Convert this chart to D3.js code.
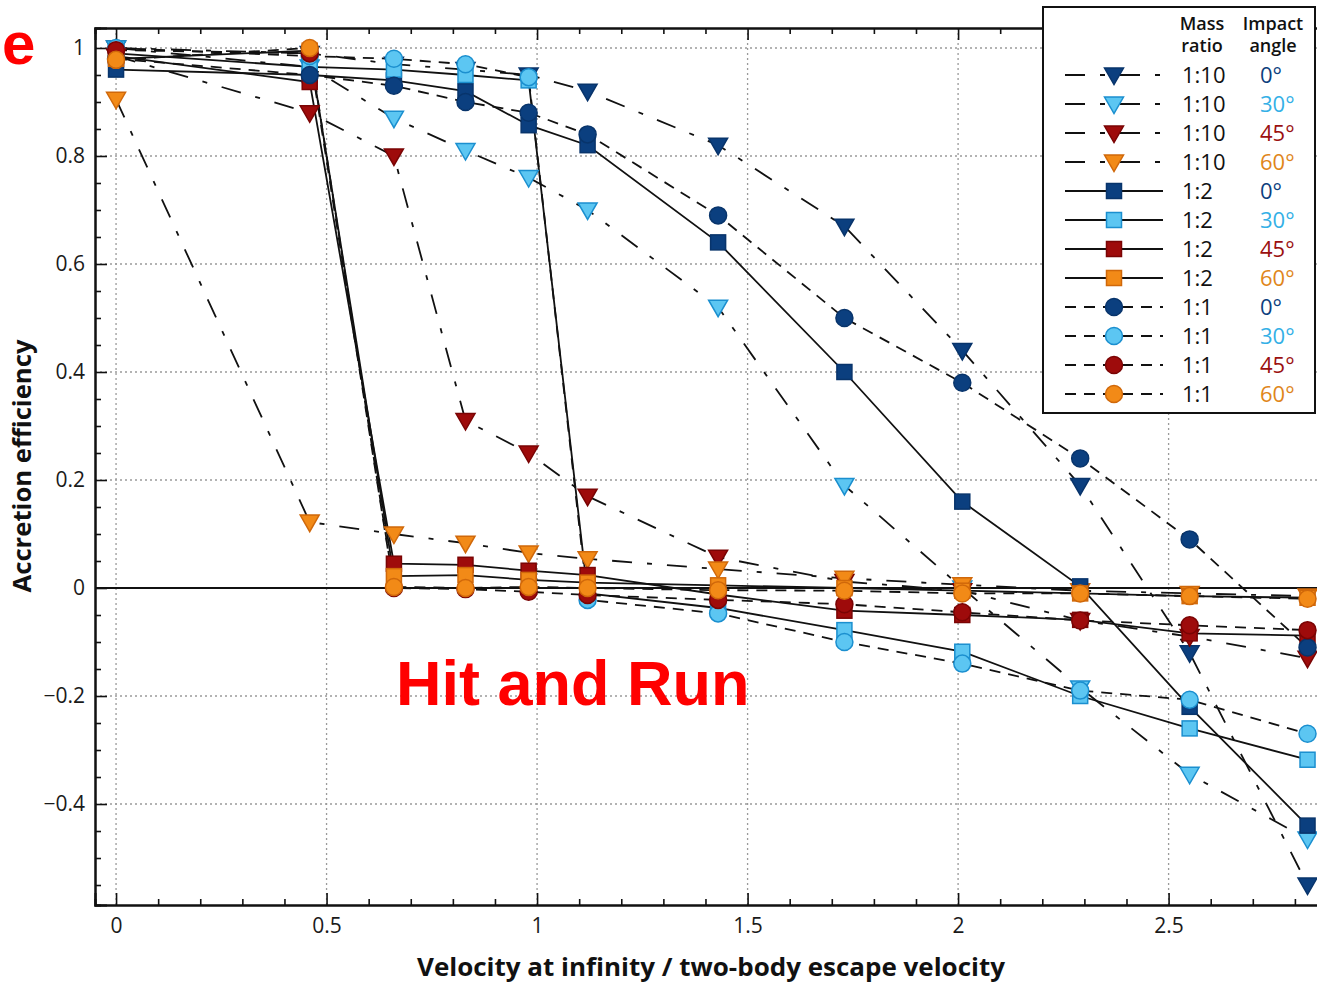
<!DOCTYPE html>
<html>
<head>
<meta charset="utf-8">
<script src="https://cdn.jsdelivr.net/npm/d3@7"></script>
<style>
  body { margin: 0; background: #fff; }
  svg { display: block; font-family: 'Open Sans', sans-serif; }
</style>
</head>
<body>
<div id="chart"></div>
<script>
// x positions (velocity at infinity / two-body escape velocity)
const velocity = [0, 0.46, 0.66, 0.83, 0.98, 1.12, 1.43, 1.73, 2.01, 2.29, 2.55, 2.83]

// accretion efficiency, mass ratio 1:10 (triangles)
const tri0 = [1.0, 0.99, 0.97, 0.96, 0.95, 0.92, 0.82, 0.67, 0.44, 0.19, -0.12, -0.55]
const tri30 = [1.0, 0.965, 0.87, 0.81, 0.76, 0.70, 0.52, 0.19, 0.0, -0.185, -0.345, -0.465]
const tri45 = [0.985, 0.88, 0.80, 0.31, 0.25, 0.17, 0.057, 0.012, -0.005, -0.06, -0.09, -0.13]
const tri60 = [0.905, 0.122, 0.10, 0.083, 0.065, 0.054, 0.035, 0.018, 0.006, -0.005, -0.01, -0.015]
// mass ratio 1:2 (squares)
const sq0 = [0.96, 0.95, 0.94, 0.92, 0.857, 0.82, 0.64, 0.40, 0.16, 0.003, -0.22, -0.44]
const sq30 = [0.99, 0.965, 0.96, 0.95, 0.94, -0.01, -0.037, -0.078, -0.118, -0.2, -0.26, -0.318]
const sq45 = [0.985, 0.937, 0.045, 0.043, 0.032, 0.024, -0.012, -0.042, -0.05, -0.059, -0.084, -0.088]
const sq60 = [0.98, 0.995, 0.022, 0.024, 0.015, 0.01, 0.005, 0.0, -0.005, -0.01, -0.015, -0.018]
// mass ratio 1:1 (circles)
const ci0 = [0.98, 0.95, 0.93, 0.90, 0.88, 0.84, 0.69, 0.50, 0.38, 0.24, 0.09, -0.11]
const ci30 = [1.0, 0.985, 0.98, 0.97, 0.946, -0.022, -0.047, -0.10, -0.14, -0.19, -0.207, -0.27]
const ci45 = [0.996, 0.99, 0.0, -0.002, -0.007, -0.013, -0.022, -0.03, -0.045, -0.06, -0.069, -0.078]
const ci60 = [0.978, 1.0, 0.002, 0.0, 0.002, 0.0, -0.004, -0.005, -0.01, -0.01, -0.015, -0.02]

const massRatios = ['1:10', '1:2', '1:1']
const angles = ['0°', '30°', '45°', '60°']
const xTicks = [0, 0.5, 1, 1.5, 2, 2.5]
const yTicks = [-0.4, -0.2, 0, 0.2, 0.4, 0.6, 0.8, 1]

const values = [
  [tri0, tri30, tri45, tri60],
  [sq0, sq30, sq45, sq60],
  [ci0, ci30, ci45, ci60]
]

const fills = ['#0b3f7f', '#5cc6f2', '#9e0b0b', '#f28a17']
const strokes = ['#08346b', '#1b8fcf', '#7a0404', '#d0680a']
const angleText = ['#0d3f7e', '#34b0e6', '#9b1010', '#e0861a']
const dashes = ['20,15,5,15', null, '11,8']

const width = 1317
const height = 983

const svg = d3.select('#chart').append('svg')
  .attr('width', width)
  .attr('height', height)

const x = d3.scaleLinear().domain([-0.05, 2.9]).range([95, 1337])
const y = d3.scaleLinear().domain([-0.587, 1.037]).range([905, 28])

// grid
const grid = svg.append('g').attr('stroke', '#9a9a9a').attr('stroke-width', 1.3).attr('stroke-dasharray', '2,3')
grid.selectAll('.gx').data(xTicks).join('line')
  .attr('x1', d => x(d)).attr('x2', d => x(d))
  .attr('y1', y.range()[0]).attr('y2', y.range()[1])
grid.selectAll('.gy').data(yTicks.filter(d => d !== 0)).join('line')
  .attr('x1', x.range()[0]).attr('x2', x.range()[1])
  .attr('y1', d => y(d)).attr('y2', d => y(d))

// zero line
svg.append('line')
  .attr('x1', x.range()[0]).attr('x2', x.range()[1])
  .attr('y1', y(0)).attr('y2', y(0))
  .attr('stroke', '#111').attr('stroke-width', 1.8)

// axes (ticks pointing inward)
const fmt = d3.format('~g')
const xMinor = d3.range(0, 29).map(i => i / 10).filter(v => !xTicks.includes(v))
const yMinor = d3.range(-11, 21).map(i => i / 20).filter(v => !yTicks.some(t => Math.abs(t - v) < 1e-9))

function styleAxis (g) {
  g.select('.domain').attr('stroke', '#111').attr('stroke-width', 2)
  g.selectAll('.tick line').attr('stroke', '#111').attr('stroke-width', 1.6)
  g.selectAll('.tick text').attr('fill', '#1a1a1a').style('font-size', '21px')
    .style('font-family', "'Open Sans', sans-serif")
}

svg.append('g').attr('transform', `translate(0,${y.range()[0]})`)
  .call(d3.axisBottom(x).tickValues(xTicks).tickFormat(fmt).tickSize(-12).tickPadding(13))
  .call(styleAxis)
svg.append('g').attr('transform', `translate(0,${y.range()[0]})`)
  .call(d3.axisBottom(x).tickValues(xMinor).tickFormat('').tickSize(-6))
  .call(styleAxis)

svg.append('g').attr('transform', `translate(0,${y.range()[1]})`)
  .call(d3.axisTop(x).tickValues(xTicks).tickFormat('').tickSize(-12))
  .call(styleAxis)
svg.append('g').attr('transform', `translate(0,${y.range()[1]})`)
  .call(d3.axisTop(x).tickValues(xMinor).tickFormat('').tickSize(-6))
  .call(styleAxis)

svg.append('g').attr('transform', `translate(${x.range()[0]},0)`)
  .call(d3.axisLeft(y).tickValues(yTicks).tickFormat(fmt).tickSize(-12).tickPadding(10))
  .call(styleAxis)
svg.append('g').attr('transform', `translate(${x.range()[0]},0)`)
  .call(d3.axisLeft(y).tickValues(yMinor).tickFormat('').tickSize(-6))
  .call(styleAxis)

// axis titles
svg.append('text')
  .attr('x', 711).attr('y', 976)
  .attr('text-anchor', 'middle')
  .attr('textLength', 588).attr('lengthAdjust', 'spacingAndGlyphs')
  .style('font-size', '25px').style('font-weight', 700).attr('fill', '#111')
  .text('Velocity at infinity / two-body escape velocity')

svg.append('text')
  .attr('transform', 'translate(31,466) rotate(-90)')
  .attr('text-anchor', 'middle')
  .attr('textLength', 253).attr('lengthAdjust', 'spacingAndGlyphs')
  .style('font-size', '25px').style('font-weight', 700).attr('fill', '#111')
  .text('Accretion efficiency')

// markers
const triPath = 'M-9.5,-7L9.5,-7L0,9.5Z'
function marker (sel, shape) {
  if (shape === 0) return sel.append('path').attr('d', triPath)
  if (shape === 1) return sel.append('rect').attr('x', -7.5).attr('y', -7.5).attr('width', 15).attr('height', 15)
  return sel.append('circle').attr('r', 8.5)
}

const line = d3.line().x(d => x(d[0])).y(d => y(d[1]))

// lines first
values.forEach((group, m) => {
  group.forEach(vals => {
    svg.append('path')
      .datum(velocity.map((v, i) => [v, vals[i]]))
      .attr('d', line)
      .attr('fill', 'none')
      .attr('stroke', '#111')
      .attr('stroke-width', 1.8)
      .attr('stroke-dasharray', dashes[m])
  })
})

// then points
values.forEach((group, m) => {
  group.forEach((vals, a) => {
    velocity.forEach((v, i) => {
      const g = svg.append('g').attr('transform', `translate(${x(v)},${y(vals[i])})`)
      marker(g, m).attr('fill', fills[a]).attr('stroke', strokes[a]).attr('stroke-width', 1.5)
    })
  })
})

// legend
const legend = svg.append('g')
legend.append('rect')
  .attr('x', 1043).attr('y', 7).attr('width', 272).attr('height', 406)
  .attr('fill', '#fff').attr('stroke', '#111').attr('stroke-width', 2)

const head = legend.append('g').style('font-size', '18px').style('font-weight', 600).attr('fill', '#111').attr('text-anchor', 'middle')
head.append('text').attr('x', 1202).attr('y', 30).text('Mass')
head.append('text').attr('x', 1202).attr('y', 52).text('ratio')
head.append('text').attr('x', 1273).attr('y', 30).text('Impact')
head.append('text').attr('x', 1273).attr('y', 52).text('angle')

massRatios.forEach((mr, m) => {
  angles.forEach((ang, a) => {
    const row = m * 4 + a
    const cy = 75 + row * 29
    const r = legend.append('g').attr('transform', `translate(0,${cy})`)
    r.append('line').attr('x1', 1065).attr('x2', 1163)
      .attr('stroke', '#111').attr('stroke-width', 1.8)
      .attr('stroke-dasharray', dashes[m])
    const mg = r.append('g').attr('transform', 'translate(1114,0)')
    marker(mg, m).attr('fill', fills[a]).attr('stroke', strokes[a]).attr('stroke-width', 1.5)
    r.append('text').attr('x', 1182).attr('y', 8)
      .style('font-size', '22px').attr('fill', '#111').text(mr)
    r.append('text').attr('x', 1260).attr('y', 8)
      .style('font-size', '22px').attr('fill', angleText[a]).text(ang)
  })
})

// annotations
svg.append('text')
  .attr('x', 2).attr('y', 64)
  .style('font-family', "'Liberation Sans', Arial, sans-serif")
  .style('font-size', '60px').style('font-weight', 700).attr('fill', '#f00')
  .text('e')

svg.append('text')
  .attr('x', 396).attr('y', 705)
  .style('font-family', "'Liberation Sans', Arial, sans-serif")
  .style('font-size', '63px').style('font-weight', 700).attr('fill', '#f00')
  .text('Hit and Run')
</script>
</body>
</html>
